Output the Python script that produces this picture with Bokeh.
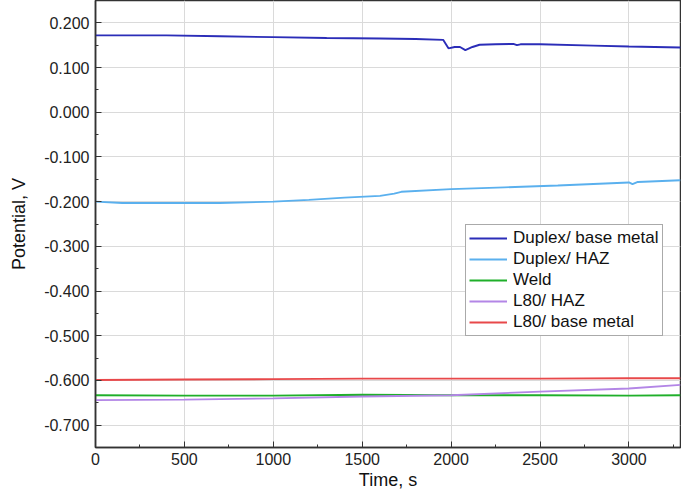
from bokeh.plotting import figure
from bokeh.models import Range1d, FixedTicker, NumeralTickFormatter
from bokeh.embed import file_html
from bokeh.resources import INLINE

# ---- data ----
t_dbm = [0, 150, 400, 700, 1000, 1300, 1600, 1800, 1955, 1985, 2020, 2050, 2080, 2120, 2160, 2250, 2350, 2370, 2390, 2500, 2800, 3000, 3290]
v_dbm = [0.172, 0.172, 0.172, 0.170, 0.168, 0.166, 0.165, 0.164, 0.162, 0.143, 0.146, 0.146, 0.139, 0.146, 0.151, 0.152, 0.153, 0.150, 0.152, 0.152, 0.149, 0.147, 0.145]

t_dhaz = [0, 150, 300, 700, 1000, 1200, 1400, 1600, 1680, 1720, 2000, 2300, 2600, 3000, 3020, 3050, 3290]
v_dhaz = [-0.200, -0.203, -0.203, -0.203, -0.200, -0.196, -0.191, -0.187, -0.182, -0.178, -0.172, -0.168, -0.164, -0.157, -0.161, -0.156, -0.152]

t_weld = [0, 500, 1000, 1500, 2000, 2500, 3000, 3290]
v_weld = [-0.633, -0.634, -0.634, -0.632, -0.633, -0.633, -0.634, -0.633]

t_lhaz = [0, 500, 1000, 1500, 2000, 2500, 3000, 3290]
v_lhaz = [-0.644, -0.643, -0.640, -0.636, -0.633, -0.625, -0.618, -0.610]

t_lbm = [0, 500, 1000, 1500, 2000, 2500, 3000, 3290]
v_lbm = [-0.599, -0.598, -0.597, -0.596, -0.596, -0.596, -0.595, -0.595]

series_names = ["Duplex/ base metal", "Duplex/ HAZ", "Weld", "L80/ HAZ", "L80/ base metal"]
series_colors = ["#2B2DB8", "#5AB0EE", "#1FAF2A", "#B386E6", "#E8484A"]

x_ticks = [0, 500, 1000, 1500, 2000, 2500, 3000]
y_ticks = [-0.7, -0.6, -0.5, -0.4, -0.3, -0.2, -0.1, 0.0, 0.1, 0.2]
y_minor = [-0.75, -0.7, -0.65, -0.6, -0.55, -0.5, -0.45, -0.4, -0.35, -0.3, -0.25, -0.2, -0.15,
           -0.1, -0.05, 0.0, 0.05, 0.1, 0.15, 0.2, 0.25]
x_minor = [0, 250, 500, 750, 1000, 1250, 1500, 1750, 2000, 2250, 2500, 2750, 3000, 3250]

FONT = "Liberation Sans"

p = figure(width=681, height=492, output_backend="svg", toolbar_location=None,
           x_range=Range1d(0, 3290), y_range=Range1d(-0.75, 0.25),
           min_border_left=95, min_border_right=1, min_border_top=0, min_border_bottom=42)

p.outline_line_color = "#333333"
p.outline_line_width = 1.5

data = [(t_dbm, v_dbm), (t_dhaz, v_dhaz), (t_weld, v_weld), (t_lhaz, v_lhaz), (t_lbm, v_lbm)]
for (tx, vy), name, col in zip(data, series_names, series_colors):
    p.line(tx, vy, line_color=col, line_width=1.9, legend_label=name)

p.xaxis.ticker = FixedTicker(ticks=x_ticks, minor_ticks=x_minor)
p.yaxis.ticker = FixedTicker(ticks=y_ticks, minor_ticks=y_minor)
p.yaxis.formatter = NumeralTickFormatter(format="0.000")

for ax in (p.xaxis[0], p.yaxis[0]):
    ax.axis_line_color = "#333333"
    ax.axis_line_width = 1.5
    ax.major_tick_in = 6
    ax.major_tick_out = 0
    ax.minor_tick_in = 3
    ax.minor_tick_out = 0
    ax.major_tick_line_color = "#333333"
    ax.minor_tick_line_color = "#333333"
    ax.major_label_text_font = FONT
    ax.major_label_text_font_size = "16px"
    ax.major_label_text_color = "#222222"
    ax.axis_label_text_font = FONT
    ax.axis_label_text_font_size = "18px"
    ax.axis_label_text_font_style = "normal"
    ax.axis_label_text_color = "#111111"

p.xaxis.axis_label = "Time, s"
p.yaxis.axis_label = "Potential, V"
p.xaxis.major_label_standoff = 5
p.xaxis.axis_label_standoff = 2
p.yaxis.major_label_standoff = 6
p.yaxis.axis_label_standoff = 12

p.xgrid.grid_line_color = "#dadada"
p.ygrid.grid_line_color = "#dadada"
p.xgrid.grid_line_width = 1
p.ygrid.grid_line_width = 1

lg = p.legend[0]
lg.location = (370, 111)
lg.border_line_color = "#555555"
lg.border_line_width = 1
lg.background_fill_alpha = 1
lg.label_text_font = FONT
lg.label_text_font_size = "17px"
lg.label_text_color = "#111111"
lg.glyph_width = 38
lg.glyph_height = 20
lg.label_height = 20
lg.label_standoff = 6
lg.spacing = 1
lg.padding = 3
lg.margin = 0

open("out.html", "w").write(file_html(p, INLINE))
